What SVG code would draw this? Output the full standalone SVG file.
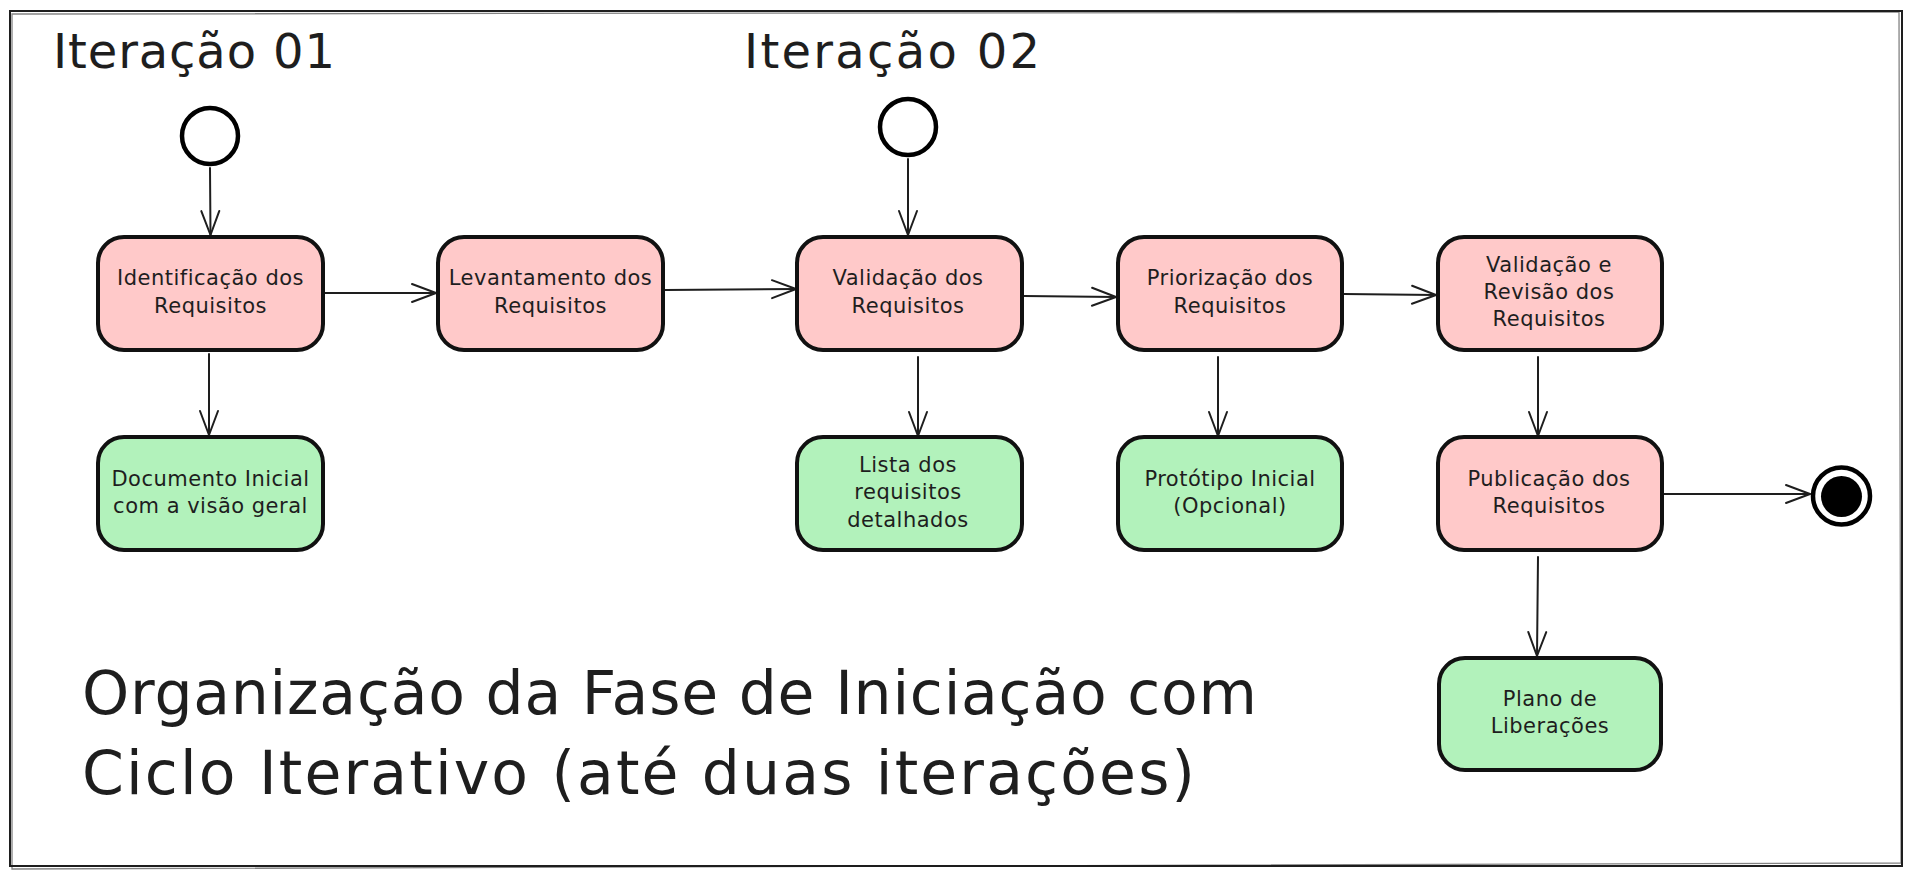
<svg xmlns="http://www.w3.org/2000/svg" width="1912" height="877" viewBox="0 0 1912 877">
<defs>
<style>
.frame{fill:none;stroke:#1e1e1e;stroke-width:2}
.frame2{fill:none;stroke:#1e1e1e;stroke-width:1.3;opacity:.55}
.box{stroke:#111;stroke-width:4}
.pink{fill:#ffc9c9}
.green{fill:#b2f2bb}
.lbl{font-family:"DejaVu Sans",sans-serif;font-size:21px;fill:#1e1e1e;text-anchor:middle;letter-spacing:0.5px}
.big{font-family:"DejaVu Sans",sans-serif;fill:#1e1e1e}
.conn path{fill:none;stroke:#1e1e1e;stroke-width:2;stroke-linecap:round;marker-end:url(#arr)}
.start{fill:#fff;stroke:#000;stroke-width:4.5}
</style>
<marker id="arr" markerUnits="userSpaceOnUse" viewBox="-27 -12 30 24" markerWidth="30" markerHeight="24" refX="0" refY="0" orient="auto" overflow="visible">
<path d="M-24,-9 L0,0 L-24,9" fill="none" stroke="#1e1e1e" stroke-width="2" stroke-linecap="round" stroke-linejoin="round"/>
</marker>
</defs>
<rect x="0" y="0" width="1912" height="877" fill="#fff"/>
<g id="frame">
<rect class="frame" x="10" y="11" width="1892" height="855"/>
<path class="frame2" d="M12,14 L1899,12 L1901,863 L12,869 Z"/>
</g>
<g id="title-iter1"><text class="big" x="53" y="68" font-size="48" textLength="282" lengthAdjust="spacing">Iteração 01</text></g>
<g id="title-iter2"><text class="big" x="744" y="68" font-size="48" textLength="296" lengthAdjust="spacing">Iteração 02</text></g>
<g id="title-main">
<text class="big" x="82" y="714" font-size="60" textLength="1175" lengthAdjust="spacing">Organização da Fase de Iniciação com</text>
<text class="big" x="82" y="794" font-size="60" textLength="1113" lengthAdjust="spacing">Ciclo Iterativo (até duas iterações)</text>
</g>
<g id="connectors" class="conn">
<path d="M210,168 L210.5,235"/>
<path d="M209,354 L209,435"/>
<path d="M325,293 L436,293"/>
<path d="M665,290 L796,289"/>
<path d="M908,159 L908,235"/>
<path d="M1024,296 L1116,297"/>
<path d="M1344,294 L1436,295"/>
<path d="M918,357 L918,436"/>
<path d="M1218,357 L1218,436"/>
<path d="M1538,357 L1538,436"/>
<path d="M1664,494 L1810,494"/>
<path d="M1538,557 L1537,656"/>
</g>
<g id="start1"><circle class="start" cx="210" cy="136" r="28"/></g>
<g id="start2"><circle class="start" cx="908" cy="127" r="28"/></g>
<g id="end"><circle cx="1841.5" cy="496" r="28.5" fill="#fff" stroke="#000" stroke-width="4.5"/><circle cx="1841.5" cy="496.5" r="20.5" fill="#000"/></g>
<g id="identificacao">
<rect class="box pink" x="98" y="237" width="225" height="113" rx="26"/>
<text class="lbl" x="210.5" y="285">Identificação dos</text>
<text class="lbl" x="210.5" y="313">Requisitos</text>
</g>
<g id="levantamento">
<rect class="box pink" x="438" y="237" width="225" height="113" rx="26"/>
<text class="lbl" x="550.5" y="285">Levantamento dos</text>
<text class="lbl" x="550.5" y="313">Requisitos</text>
</g>
<g id="validacao">
<rect class="box pink" x="797" y="237" width="225" height="113" rx="26"/>
<text class="lbl" x="908" y="285">Validação dos</text>
<text class="lbl" x="908" y="313">Requisitos</text>
</g>
<g id="priorizacao">
<rect class="box pink" x="1118" y="237" width="224" height="113" rx="26"/>
<text class="lbl" x="1230" y="285">Priorização dos</text>
<text class="lbl" x="1230" y="313">Requisitos</text>
</g>
<g id="validacao-revisao">
<rect class="box pink" x="1438" y="237" width="224" height="113" rx="26"/>
<text class="lbl" x="1549" y="272">Validação e</text>
<text class="lbl" x="1549" y="299">Revisão dos</text>
<text class="lbl" x="1549" y="326">Requisitos</text>
</g>
<g id="documento">
<rect class="box green" x="98" y="437" width="225" height="113" rx="26"/>
<text class="lbl" x="210.5" y="486">Documento Inicial</text>
<text class="lbl" x="210.5" y="513">com a visão geral</text>
</g>
<g id="lista">
<rect class="box green" x="797" y="437" width="225" height="113" rx="26"/>
<text class="lbl" x="908" y="472">Lista dos</text>
<text class="lbl" x="908" y="499">requisitos</text>
<text class="lbl" x="908" y="527">detalhados</text>
</g>
<g id="prototipo">
<rect class="box green" x="1118" y="437" width="224" height="113" rx="26"/>
<text class="lbl" x="1230" y="486">Protótipo Inicial</text>
<text class="lbl" x="1230" y="513">(Opcional)</text>
</g>
<g id="publicacao">
<rect class="box pink" x="1438" y="437" width="224" height="113" rx="26"/>
<text class="lbl" x="1549" y="486">Publicação dos</text>
<text class="lbl" x="1549" y="513">Requisitos</text>
</g>
<g id="plano">
<rect class="box green" x="1439" y="658" width="222" height="112" rx="26"/>
<text class="lbl" x="1550" y="706">Plano de</text>
<text class="lbl" x="1550" y="733">Liberações</text>
</g>
</svg>
